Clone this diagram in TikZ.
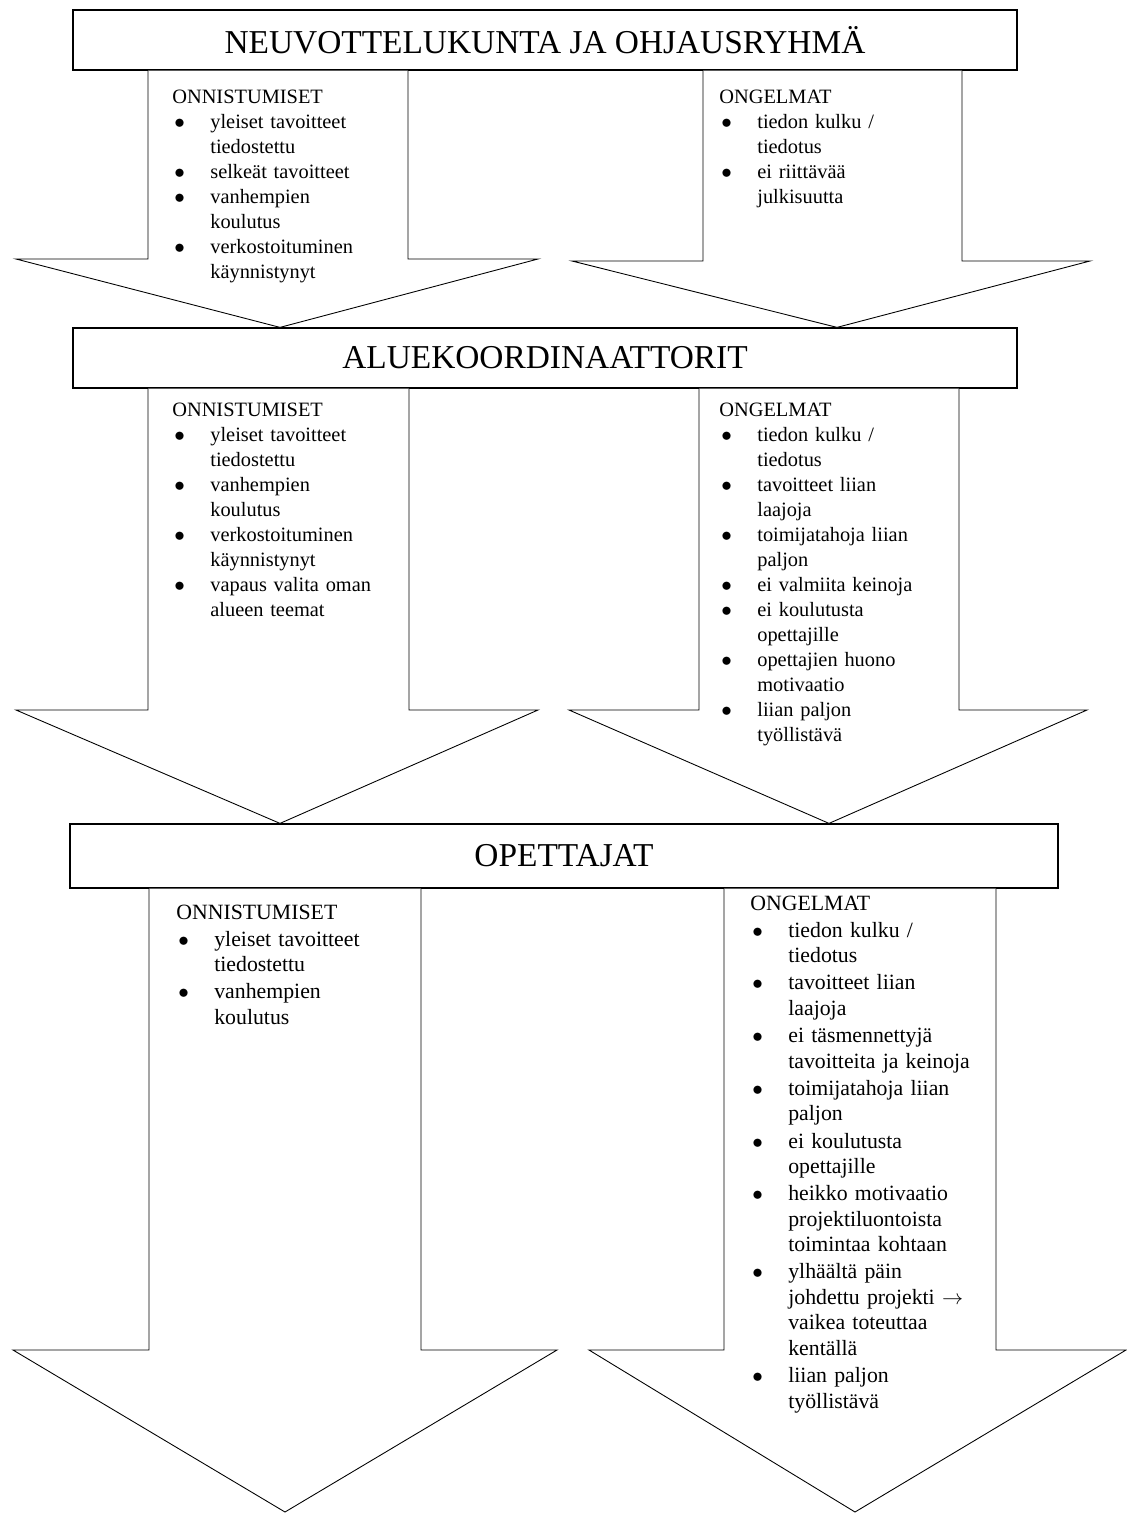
\documentclass[tikz,border=0pt]{standalone}
\usepackage{fontspec}
\setmainfont{Liberation Serif}

\newlength{\vali}
\newcommand{\kohta}[1]{\par\vspace{\vali}\hangindent=0.76cm\hangafter=1\makebox[0.76cm][l]{\hspace{0.04cm}$\bullet$}{\let\\\newline #1}\par}

\begin{document}
\begin{tikzpicture}
    [x=0.02cm,y=-0.02cm,
laatikko/.style={draw, line width=0.7pt, fill=white, inner sep=0pt, font=\fontsize{19}{23}\selectfont},
nuoli/.style={draw, line width=0.5pt, fill=white, line join=miter},
lista/.style={anchor=base west, inner sep=0pt, text width=5.4cm, align=left, font=\fontsize{11.6}{14.2}\selectfont},
lista3/.style={lista, font=\fontsize{12.4}{14.5}\selectfont}
]

\useasboundingbox (0,0) rectangle (1126,1513);

\node[laatikko, minimum width=18.88cm, minimum height=1.2cm](neuvottelu) at (545,40) {NEUVOTTELUKUNTA JA OHJAUSRYHMÄ};
\node[laatikko, minimum width=18.88cm, minimum height=1.2cm](alue) at (545,358) {ALUEKOORDINAATTORIT};
\node[laatikko, minimum width=19.76cm, minimum height=1.28cm](opettajat) at (564,856) {OPETTAJAT};
\coordinate (pohja) at (0,1512);

% arrows from box to box
\draw[nuoli] (148,0 |- neuvottelu.south) -- (148,259) -- (16,259) -- (280,0 |- alue.north) -- (538,259) -- (408,259) -- (408,0 |- neuvottelu.south);
\draw[nuoli] (703,0 |- neuvottelu.south) -- (703,261) -- (572,261) -- (837,0 |- alue.north) -- (1090,261) -- (962,261) -- (962,0 |- neuvottelu.south);
\draw[nuoli] (148,0 |- alue.south) -- (148,710) -- (16,710) -- (280,0 |- opettajat.north) -- (538,710) -- (409,710) -- (409,0 |- alue.south);
\draw[nuoli] (699,0 |- alue.south) -- (699,710) -- (569,710) -- (829,0 |- opettajat.north) -- (1087,710) -- (959,710) -- (959,0 |- alue.south);
\draw[nuoli] (149,0 |- opettajat.south) -- (149,1350) -- (13,1350) -- (285,0 |- pohja) -- (557,1350) -- (421,1350) -- (421,0 |- opettajat.south);
\draw[nuoli] (724,0 |- opettajat.south) -- (724,1350) -- (589,1350) -- (855,0 |- pohja) -- (1126,1350) -- (996,1350) -- (996,0 |- opettajat.south);

\node[lista](onn1) at (172,104) {ONNISTUMISET
\kohta{yleiset tavoitteet\\tiedostettu}
\kohta{selkeät tavoitteet}
\kohta{vanhempien\\koulutus}
\kohta{verkostoituminen\\käynnistynyt}};
\node[lista](ong1) at (719,104) {ONGELMAT
\kohta{tiedon kulku /\\tiedotus}
\kohta{ei riittävää\\julkisuutta}};

\node[lista](onn2) at (172,417) {ONNISTUMISET
\kohta{yleiset tavoitteet\\tiedostettu}
\kohta{vanhempien\\koulutus}
\kohta{verkostoituminen\\käynnistynyt}
\kohta{vapaus valita oman\\alueen teemat}};
\node[lista](ong2) at (719,417) {ONGELMAT
\kohta{tiedon kulku /\\tiedotus}
\kohta{tavoitteet liian\\laajoja}
\kohta{toimijatahoja liian\\paljon}
\kohta{ei valmiita keinoja}
\kohta{ei koulutusta\\opettajille}
\kohta{opettajien huono\\motivaatio}
\kohta{liian paljon\\työllistävä}};

\setlength{\vali}{1pt}
\node[lista3](onn3) at (176,919) {ONNISTUMISET
\kohta{yleiset tavoitteet\\tiedostettu}
\kohta{vanhempien\\koulutus}};
\node[lista3](ong3) at (750,910) {ONGELMAT
\kohta{tiedon kulku /\\tiedotus}
\kohta{tavoitteet liian\\laajoja}
\kohta{ei täsmennettyjä\\tavoitteita ja keinoja}
\kohta{toimijatahoja liian\\paljon}
\kohta{ei koulutusta\\opettajille}
\kohta{heikko motivaatio\\projektiluontoista\\toimintaa kohtaan}
\kohta{ylhäältä päin\\johdettu projekti $\rightarrow$\\vaikea toteuttaa\\kentällä}
\kohta{liian paljon\\työllistävä}};

\end{tikzpicture}
\end{document}
